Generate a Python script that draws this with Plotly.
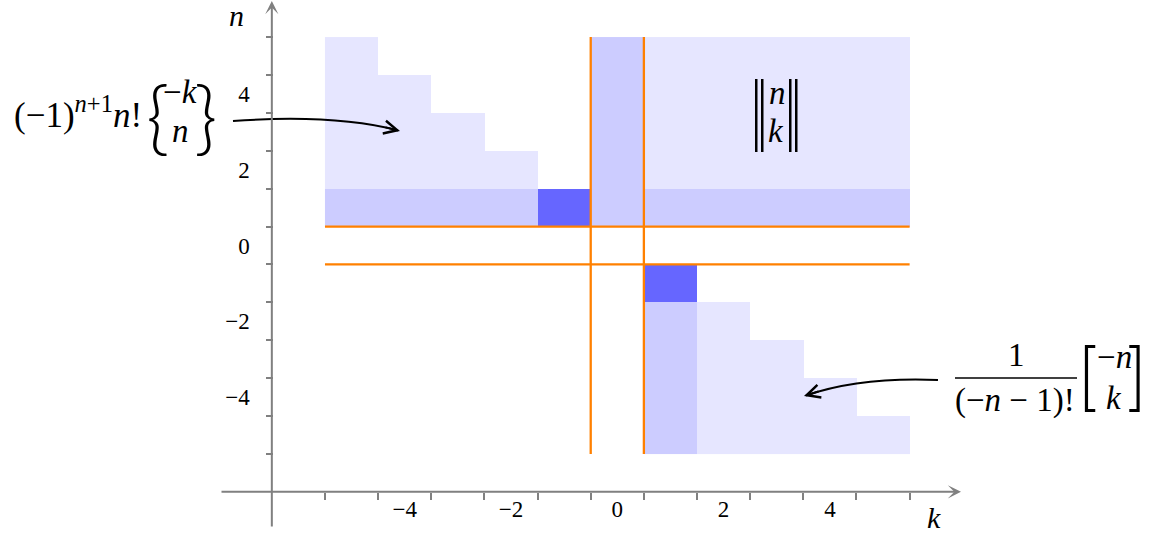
import plotly.graph_objects as go

# ---------------- data ----------------
k_vals = [-5, -4, -3, -2, -1, 0, 1, 2, 3, 4, 5]
n_vals = [5, 4, 3, 2, 1, 0, -1, -2, -3, -4, -5]
# shade level of each cell (row = n from 5 down to -5, col = k from -5 to 5)
# 0 = empty, 1 = light, 2 = medium, 3 = dark
shade_rows = [
    [1, 0, 0, 0, 0, 2, 1, 1, 1, 1, 1],   # n = 5
    [1, 1, 0, 0, 0, 2, 1, 1, 1, 1, 1],   # n = 4
    [1, 1, 1, 0, 0, 2, 1, 1, 1, 1, 1],   # n = 3
    [1, 1, 1, 1, 0, 2, 1, 1, 1, 1, 1],   # n = 2
    [2, 2, 2, 2, 3, 2, 2, 2, 2, 2, 2],   # n = 1
    [0, 0, 0, 0, 0, 0, 0, 0, 0, 0, 0],   # n = 0
    [0, 0, 0, 0, 0, 0, 3, 0, 0, 0, 0],   # n = -1
    [0, 0, 0, 0, 0, 0, 2, 1, 0, 0, 0],   # n = -2
    [0, 0, 0, 0, 0, 0, 2, 1, 1, 0, 0],   # n = -3
    [0, 0, 0, 0, 0, 0, 2, 1, 1, 1, 0],   # n = -4
    [0, 0, 0, 0, 0, 0, 2, 1, 1, 1, 1],   # n = -5
]
sep_k = [-0.5, 0.5]          # vertical separator lines
sep_n = [-0.5, 0.5]          # horizontal separator lines
grid_span = [-5.5, 5.5]
tick_label_vals = [-4, -2, 0, 2, 4]
tick_mark_vals = [-5.5, -4.5, -3.5, -2.5, -1.5, -0.5, 0.5, 1.5, 2.5, 3.5, 4.5, 5.5]
axis_origin = -6.5

# ---------------- geometry (pixel mapping) ----------------
W, H = 1149, 533
KX0, SX = 617.3, 53.15
NY0, SY = 245.5, 37.9
xr = [(0 - KX0) / SX, (W - KX0) / SX]
yr = [(NY0 - H) / SY, NY0 / SY]


def dk(px):
    return (px - KX0) / SX


def dn(py):
    return (NY0 - py) / SY


def pxf(px):
    return px / W


def pyf(py):
    return 1 - py / H


LIGHT, MED, DARK = '#e6e6ff', '#ccccff', '#6666ff'
ORANGE = '#ff8000'
GRAY = '#808080'
SERIF = 'Liberation Serif'

fig = go.Figure()

z = [[(v if v > 0 else None) for v in row] for row in shade_rows]
fig.add_trace(go.Heatmap(
    x=k_vals, y=n_vals[::-1], z=z[::-1],
    zmin=1, zmax=3,
    colorscale=[[0, LIGHT], [0.5, MED], [1, DARK]],
    showscale=False, hoverinfo='skip', xgap=0, ygap=0,
))

for kv in sep_k:
    fig.add_trace(go.Scatter(x=[kv, kv], y=grid_span, mode='lines',
                             line=dict(color=ORANGE, width=2.3),
                             showlegend=False, hoverinfo='skip'))
for nv in sep_n:
    fig.add_trace(go.Scatter(x=grid_span, y=[nv, nv], mode='lines',
                             line=dict(color=ORANGE, width=2.3),
                             showlegend=False, hoverinfo='skip'))

annotations = []
# axis arrows
annotations.append(dict(x=dk(961), y=axis_origin, ax=dk(220), ay=axis_origin,
                        xref='x', yref='y', axref='x', ayref='y', text='',
                        showarrow=True, arrowhead=3, arrowsize=1.1,
                        arrowwidth=2, arrowcolor=GRAY))
annotations.append(dict(x=axis_origin, y=dn(1), ax=axis_origin, ay=dn(528),
                        xref='x', yref='y', axref='x', ayref='y', text='',
                        showarrow=True, arrowhead=3, arrowsize=1.1,
                        arrowwidth=2, arrowcolor=GRAY))


def txt(text, px, py, size, xanchor='center', yanchor='middle', family=SERIF,
        weight='normal', pad=1):
    annotations.append(dict(x=pxf(px), y=pyf(py), xref='paper', yref='paper',
                            text=text, showarrow=False, xanchor=xanchor,
                            yanchor=yanchor, borderpad=pad, borderwidth=pad,
                            font=dict(family=family, size=size, color='black',
                                      weight=weight)))


FS = 33
BAR = 'Noto Sans'
# axis names
txt('<i>n</i>', 236, 16, 30)
txt('<i>k</i>', 934, 517, 30)

# left formula
txt('(−1)<sup><i>n</i>+1</sup><i>n</i>!', 144, 112, 35, xanchor='right')
txt('{', 158, 114, 80, family='Lato', weight=300)
txt('−<i>k</i>', 180, 92, FS)
txt('<i>n</i>', 180, 131, FS)
txt('}', 206, 114, 80, family='Lato', weight=300)

# middle symbol
txt('|', 756, 106, 72, family=BAR, weight=200)
txt('|', 763, 106, 72, family=BAR, weight=200)
txt('<i>n</i>', 777, 93, FS)
txt('<i>k</i>', 776, 131, FS)
txt('|', 790, 106, 72, family=BAR, weight=200)
txt('|', 797, 106, 72, family=BAR, weight=200)

# right formula
txt('1', 1016, 355, FS)
txt('(−<i>n</i> − 1)!', 1015, 400, FS)
txt('[', 1088, 375, 74, family='Inter', weight=200)
txt('−<i>n</i>', 1114, 357, FS)
txt('<i>k</i>', 1114, 398, FS)
txt(']', 1149, 375, 74, xanchor='right', family='Inter', weight=200, pad=0)

# arrowheads of the pointer curves
annotations.append(dict(x=dk(400), y=dn(131), ax=-16, ay=-4, xref='x', yref='y',
                        text='', showarrow=True, arrowhead=5, arrowsize=1.3,
                        arrowwidth=2, arrowcolor='black'))
annotations.append(dict(x=dk(804), y=dn(396), ax=16, ay=-5, xref='x', yref='y',
                        text='', showarrow=True, arrowhead=5, arrowsize=1.3,
                        arrowwidth=2, arrowcolor='black'))

shapes = [
    dict(type='path', xref='x', yref='y',
         path=f'M {dk(233)},{dn(121)} C {dk(290)},{dn(117)} {dk(350)},{dn(118)} {dk(398)},{dn(130.5)}',
         line=dict(color='black', width=2)),
    dict(type='path', xref='x', yref='y',
         path=f'M {dk(938)},{dn(380)} C {dk(890)},{dn(378)} {dk(845)},{dn(382)} {dk(806)},{dn(395.5)}',
         line=dict(color='black', width=2)),
    dict(type='line', xref='paper', yref='paper', x0=pxf(955), x1=pxf(1077),
         y0=pyf(378), y1=pyf(378), line=dict(color='black', width=1.6)),
]

tickfont = dict(family=SERIF, size=23, color='black')
fig.update_layout(
    width=W, height=H, margin=dict(l=0, r=0, t=0, b=0, pad=0),
    font=dict(family=SERIF, size=23, color='black'),
    paper_bgcolor='white', plot_bgcolor='white', showlegend=False,
    annotations=annotations, shapes=shapes,
    xaxis=dict(range=xr, domain=[0, 1], anchor='free', position=pyf(491.9),
               showgrid=False, zeroline=False, showline=False,
               tickmode='array', tickvals=tick_label_vals, ticks='',
               ticklabelstandoff=1, tickfont=tickfont,
               minor=dict(tickmode='array', tickvals=tick_mark_vals, ticks='outside',
                          ticklen=7, tickwidth=2, tickcolor=GRAY, showgrid=False)),
    yaxis=dict(range=yr, domain=[0, 1], anchor='free', position=pxf(272.7),
               showgrid=False, zeroline=False, showline=False,
               tickmode='array', tickvals=tick_label_vals, ticks='',
               ticklabelstandoff=23, tickfont=tickfont,
               minor=dict(tickmode='array', tickvals=tick_mark_vals, ticks='outside',
                          ticklen=7, tickwidth=2, tickcolor=GRAY, showgrid=False)),
)

fig.write_html('out.html', config={'displayModeBar': False},
               post_script="document.body.style.margin='0';")
